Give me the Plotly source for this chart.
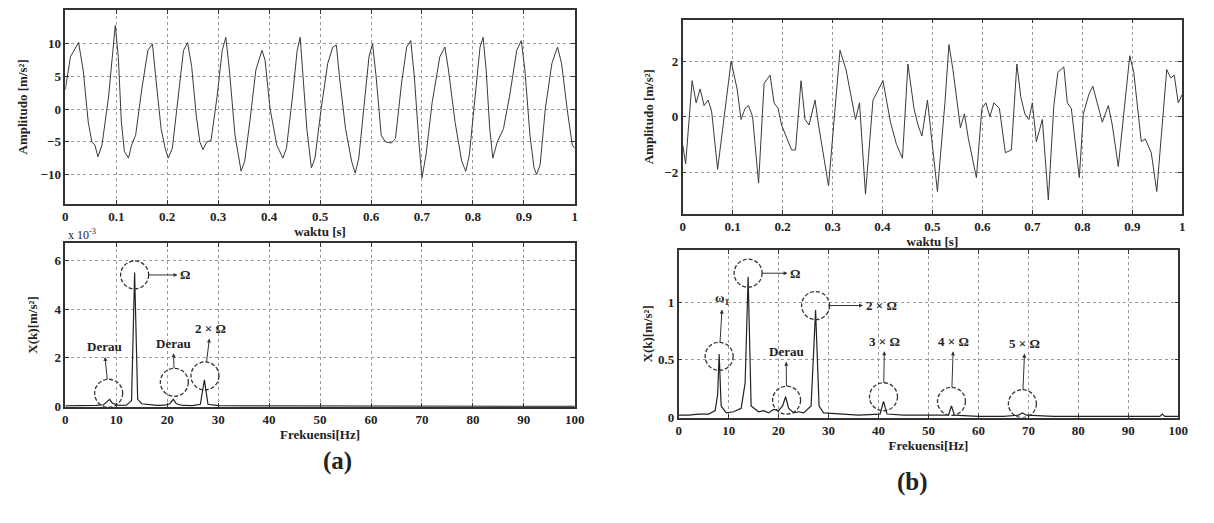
import plotly.graph_objects as go

W, H = 1214, 523

# ---------------- data ----------------
# (a) time signal
t_a = [0.000, 0.010, 0.026, 0.035, 0.045, 0.052, 0.058, 0.064, 0.072, 0.085,
       0.098, 0.104, 0.110, 0.116, 0.124, 0.130, 0.138, 0.150, 0.162, 0.171,
       0.176, 0.188, 0.196, 0.202, 0.210, 0.222, 0.232, 0.240, 0.248, 0.257,
       0.264, 0.270, 0.278, 0.286, 0.298, 0.308, 0.315, 0.322, 0.333, 0.345,
       0.352, 0.362, 0.374, 0.386, 0.392, 0.402, 0.415, 0.427, 0.434, 0.446,
       0.455, 0.461, 0.466, 0.474, 0.483, 0.490, 0.502, 0.515, 0.525, 0.532,
       0.538, 0.550, 0.562, 0.569, 0.576, 0.586, 0.596, 0.603, 0.610, 0.620,
       0.628, 0.640, 0.648, 0.660, 0.670, 0.678, 0.685, 0.694, 0.700, 0.708,
       0.720, 0.735, 0.745, 0.752, 0.765, 0.778, 0.786, 0.793, 0.805, 0.814,
       0.820, 0.826, 0.833, 0.839, 0.848, 0.860, 0.872, 0.886, 0.895, 0.902,
       0.912, 0.920, 0.925, 0.932, 0.942, 0.955, 0.966, 0.974, 0.985, 0.995,
       1.000]
amp_a = [3.0, 8.0, 10.2, 6.0, -2.0, -5.0, -5.5, -7.3, -5.5, 2.0,
         12.8, 8.0, -2.0, -6.5, -7.5, -5.5, -4.0, 3.0, 9.0, 10.0,
         6.0, -3.0, -6.0, -7.5, -6.0, 2.0, 9.0, 10.2, 6.5, -1.0,
         -5.0, -6.2, -5.0, -4.8, 2.0, 9.0, 11.0, 6.0, -4.0, -9.5,
         -8.0, -2.0, 6.0, 9.0, 7.5, 0.0, -5.5, -7.5, -6.0, 2.0,
         9.0, 11.0, 6.0, -3.0, -9.0, -7.5, 0.0, 7.0, 9.5, 9.8,
         5.0, -3.0, -8.0, -9.8, -7.5, 0.0, 8.0, 10.0, 5.0, -4.0,
         -5.0, -5.2, -4.5, 4.0, 9.5, 10.5, 5.0, -5.0, -10.5, -7.0,
         1.0, 8.0, 9.5, 6.0, -2.0, -8.0, -9.5, -7.0, 3.0, 9.5,
         11.0, 6.0, -3.0, -7.5, -5.0, -3.0, 2.0, 9.0, 10.5, 6.0,
         -4.0, -9.0, -10.0, -8.5, 0.0, 7.0, 9.5, 7.0, 0.0, -5.5,
         -6.0]

# (b) time signal
t_b = [0.000, 0.006, 0.019, 0.027, 0.035, 0.043, 0.051, 0.058, 0.070, 0.097,
       0.109, 0.117, 0.125, 0.132, 0.140, 0.152, 0.163, 0.175, 0.183, 0.191,
       0.198, 0.218, 0.226, 0.237, 0.245, 0.253, 0.265, 0.272, 0.292, 0.304,
       0.315, 0.327, 0.339, 0.346, 0.354, 0.366, 0.381, 0.393, 0.401, 0.409,
       0.416, 0.428, 0.440, 0.451, 0.463, 0.471, 0.479, 0.490, 0.498, 0.510,
       0.525, 0.533, 0.541, 0.548, 0.556, 0.564, 0.572, 0.588, 0.599, 0.607,
       0.615, 0.623, 0.634, 0.646, 0.658, 0.669, 0.677, 0.685, 0.693, 0.700,
       0.708, 0.720, 0.732, 0.743, 0.751, 0.763, 0.770, 0.778, 0.794, 0.802,
       0.813, 0.821, 0.833, 0.840, 0.852, 0.860, 0.872, 0.883, 0.895, 0.903,
       0.911, 0.918, 0.926, 0.938, 0.949, 0.961, 0.969, 0.977, 0.984, 0.992,
       1.000]
amp_b = [-1.0, -1.7, 1.3, 0.5, 1.0, 0.4, 0.6, 0.2, -1.9, 2.0,
         1.0, -0.1, 0.3, 0.4, 0.0, -2.4, 1.2, 1.5, 0.5, 0.3,
         -0.3, -1.2, -1.2, 1.3, -0.1, -0.3, 0.6, -0.3, -2.5, 0.0,
         2.4, 1.7, 0.5, -0.1, 0.5, -2.8, 0.6, 1.0, 1.3, 0.5,
         -0.2, -1.0, -1.5, 1.9, 0.3, -0.3, -0.7, 0.6, -0.7, -2.7,
         0.5, 2.6, 1.7, 0.8, -0.4, 0.1, -0.8, -2.2, 0.3, 0.5,
         0.0, 0.5, 0.3, -1.3, -1.2, 1.9, 0.7, 0.1, -0.1, 0.5,
         -0.9, -0.1, -3.0, 0.4, 1.6, 1.8, 0.5, 0.3, -2.2, 0.1,
         0.8, 1.1, 0.3, -0.2, 0.4, -0.3, -1.8, 0.2, 2.2, 1.6,
         0.2, -0.9, -0.8, -1.3, -2.7, -0.1, 1.7, 1.4, 1.5, 0.5,
         0.8]

# (a) spectrum, magnitude in units of 1e-3 m/s^2
f_a = [0, 2, 4, 6, 7.5, 8.2, 8.7, 9.2, 10.5, 12.0,
       13.0, 13.6, 14.2, 15.0, 16.5, 18.0, 19.5, 20.5, 21.2, 21.8,
       23.0, 25.0, 26.5, 27.3, 28.0, 30.0, 35.0, 40.0, 45.0, 50.0,
       60.0, 70.0, 80.0, 90.0, 100.0]
X_a = [0.03, 0.03, 0.04, 0.05, 0.08, 0.2, 0.3, 0.15, 0.05, 0.06,
       0.25, 5.5, 0.3, 0.12, 0.08, 0.05, 0.06, 0.12, 0.3, 0.12,
       0.05, 0.04, 0.1, 1.1, 0.1, 0.04, 0.03, 0.03, 0.02, 0.02,
       0.02, 0.01, 0.01, 0.01, 0.01]

# (b) spectrum
f_b = [0, 2, 4, 6, 7.3, 7.8, 8.1, 8.5, 9.5, 11,
       12.5, 13.3, 13.9, 14.5, 16, 17, 18, 19, 20, 20.8,
       21.4, 22, 23, 24, 25, 26.5, 27.4, 28.1, 29, 32,
       36, 40.3, 41, 41.7, 45, 50, 54, 54.6, 55.2, 60,
       65, 68, 68.8, 69.6, 75, 80, 90, 96.3, 96.8, 97.3,
       100]
X_b = [0.02, 0.02, 0.03, 0.03, 0.06, 0.2, 0.55, 0.1, 0.04, 0.05,
       0.08, 0.3, 1.22, 0.1, 0.05, 0.06, 0.04, 0.07, 0.06, 0.1,
       0.18, 0.08, 0.04, 0.05, 0.04, 0.1, 0.93, 0.1, 0.04, 0.03,
       0.02, 0.03, 0.14, 0.03, 0.02, 0.02, 0.02, 0.1, 0.02, 0.01,
       0.01, 0.02, 0.04, 0.02, 0.01, 0.01, 0.01, 0.01, 0.03, 0.01,
       0.01]

time_ticks = [0, 0.1, 0.2, 0.3, 0.4, 0.5, 0.6, 0.7, 0.8, 0.9, 1]
time_tick_text = ["0", "0.1", "0.2", "0.3", "0.4", "0.5", "0.6", "0.7", "0.8", "0.9", "1"]
freq_ticks = [0, 10, 20, 30, 40, 50, 60, 70, 80, 90, 100]
amp_a_ticks = [-10, -5, 0, 5, 10]
amp_b_ticks = [-2, 0, 2]
X_a_ticks = [0, 2, 4, 6]
X_b_ticks = [0, 0.5, 1]
X_b_tick_text = ["0", "0.5", "1"]

# markers: (circle x, circle y, label, label x, label y)
marks_a = [
    (8.5, 0.55, "Derau", 7.6, 2.45),
    (13.6, 5.4, "Ω", 23.5, 5.4),
    (21.4, 1.0, "Derau", 21.2, 2.6),
    (27.4, 1.26, "2 × Ω", 28.5, 3.2),
]
marks_b = [
    (8.1, 0.53, "ω<sub>1</sub>", 8.8, 1.03),
    (13.9, 1.25, "Ω", 23.3, 1.25),
    (27.4, 0.97, "2 × Ω", 40.5, 0.97),
    (21.6, 0.15, "Derau", 21.5, 0.57),
    (41.0, 0.18, "3 × Ω", 41.2, 0.66),
    (54.6, 0.14, "4 × Ω", 55.0, 0.66),
    (68.8, 0.12, "5 × Ω", 69.3, 0.64),
]

# ---------------- layout helpers ----------------
FONT = "Liberation Serif"
INK = "#222222"
BOX = {  # left, right, top, bottom in pixels
    "tl": (63, 578, 10, 207),
    "bl": (63, 578, 247, 413),
    "tr": (687, 1192, 20, 217),
    "br": (683, 1188, 254, 424),
}


def dx(k):
    l, r, t, b = BOX[k]
    return [l / W, r / W]


def dy(k):
    l, r, t, b = BOX[k]
    return [1 - b / H, 1 - t / H]


def axis_common():
    return dict(
        ticks="inside", ticklen=4, tickcolor="#333", mirror="ticks",
        showline=True, linecolor="#333", linewidth=1.5,
        showgrid=True, gridcolor="#9a9a9a", griddash="dot", gridwidth=1,
        zeroline=False, tickfont=dict(family=FONT, size=13, color=INK, weight="bold"),
        title_font=dict(family=FONT, size=13, color=INK, weight="bold"),
    )


fig = go.Figure()
line_style = dict(color="#3a3a3a", width=1)
fig.add_trace(go.Scatter(x=t_a, y=amp_a, mode="lines", line=line_style, xaxis="x", yaxis="y"))
fig.add_trace(go.Scatter(x=f_a, y=X_a, mode="lines", line=dict(color="#222", width=1.2), xaxis="x2", yaxis="y2"))
fig.add_trace(go.Scatter(x=t_b, y=amp_b, mode="lines", line=line_style, xaxis="x3", yaxis="y3"))
fig.add_trace(go.Scatter(x=f_b, y=X_b, mode="lines", line=dict(color="#222", width=1.2), xaxis="x4", yaxis="y4"))

lay = dict(
    width=W, height=H, margin=dict(l=0, r=0, t=0, b=0),
    paper_bgcolor="white", plot_bgcolor="white", showlegend=False,
    font=dict(family=FONT, size=13, color=INK),
)
lay["xaxis"] = dict(axis_common(), domain=dx("tl"), anchor="y", range=[0, 1],
                    tickvals=time_ticks, ticktext=time_tick_text,
                    title=dict(text="waktu [s]", standoff=4))
lay["yaxis"] = dict(axis_common(), domain=dy("tl"), anchor="x", range=[-14.5, 15.2],
                    tickvals=amp_a_ticks, title=dict(text="Amplitudo [m/s²]", standoff=10))
lay["xaxis2"] = dict(axis_common(), domain=dx("bl"), anchor="y2", range=[0, 100],
                     tickvals=freq_ticks, title=dict(text="Frekuensi[Hz]", standoff=4))
lay["yaxis2"] = dict(axis_common(), domain=dy("bl"), anchor="x2", range=[0, 6.7],
                     tickvals=X_a_ticks, title=dict(text="X(k)[m/s²]", standoff=14))
lay["xaxis3"] = dict(axis_common(), domain=dx("tr"), anchor="y3", range=[0, 1],
                     tickvals=time_ticks, ticktext=time_tick_text,
                     title=dict(text="waktu [s]", standoff=4))
lay["yaxis3"] = dict(axis_common(), domain=dy("tr"), anchor="x3", range=[-3.5, 3.5],
                     tickvals=amp_b_ticks, title=dict(text="Amplitudo [m/s²]", standoff=8))
lay["xaxis4"] = dict(axis_common(), domain=dx("br"), anchor="y4", range=[0, 100],
                     tickvals=freq_ticks, title=dict(text="Frekuensi[Hz]", standoff=4))
lay["yaxis4"] = dict(axis_common(), domain=dy("br"), anchor="x4", range=[0, 1.45],
                     tickvals=X_b_ticks, ticktext=X_b_tick_text,
                     title=dict(text="X(k)[m/s²]", standoff=3))

shapes = []
annotations = []
R = 14


def add_marks(marks, xr, yr):
    for cx, cy, label, lx, ly in marks:
        shapes.append(dict(type="circle", xref=xr, yref=yr,
                           xsizemode="pixel", ysizemode="pixel",
                           xanchor=cx, yanchor=cy, x0=-R, x1=R, y0=-R, y1=R,
                           line=dict(color="#333", width=1.3, dash="4px,2px")))
        annotations.append(dict(
            x=cx, y=cy, xref=xr, yref=yr, ax=lx, ay=ly, axref=xr, ayref=yr,
            text=label, showarrow=True, arrowside="start", startarrowhead=2,
            startarrowsize=0.8, arrowwidth=1, arrowcolor="#333",
            standoff=R, startstandoff=1,
            font=dict(family=FONT, size=13, color=INK, weight="bold"),
        ))


add_marks(marks_a, "x2", "y2")
add_marks(marks_b, "x4", "y4")

# exponent of the (a) spectrum axis
annotations.append(dict(x=64 / W, y=1 - 238 / H, xref="paper", yref="paper",
                        text="x 10<sup>-3</sup>", showarrow=False,
                        xanchor="left", yanchor="middle",
                        font=dict(family=FONT, size=12, color=INK)))
# panel labels
annotations.append(dict(x=321 / W, y=1 - 468 / H, xref="paper", yref="paper",
                        text="(a)", showarrow=False, yanchor="middle",
                        font=dict(family=FONT, size=25, color=INK, weight="bold")))
annotations.append(dict(x=937 / W, y=1 - 489 / H, xref="paper", yref="paper",
                        text="(b)", showarrow=False, yanchor="middle",
                        font=dict(family=FONT, size=25, color=INK, weight="bold")))

lay["shapes"] = shapes
lay["annotations"] = annotations
fig.update_layout(**lay)
fig.write_html("out.html")
